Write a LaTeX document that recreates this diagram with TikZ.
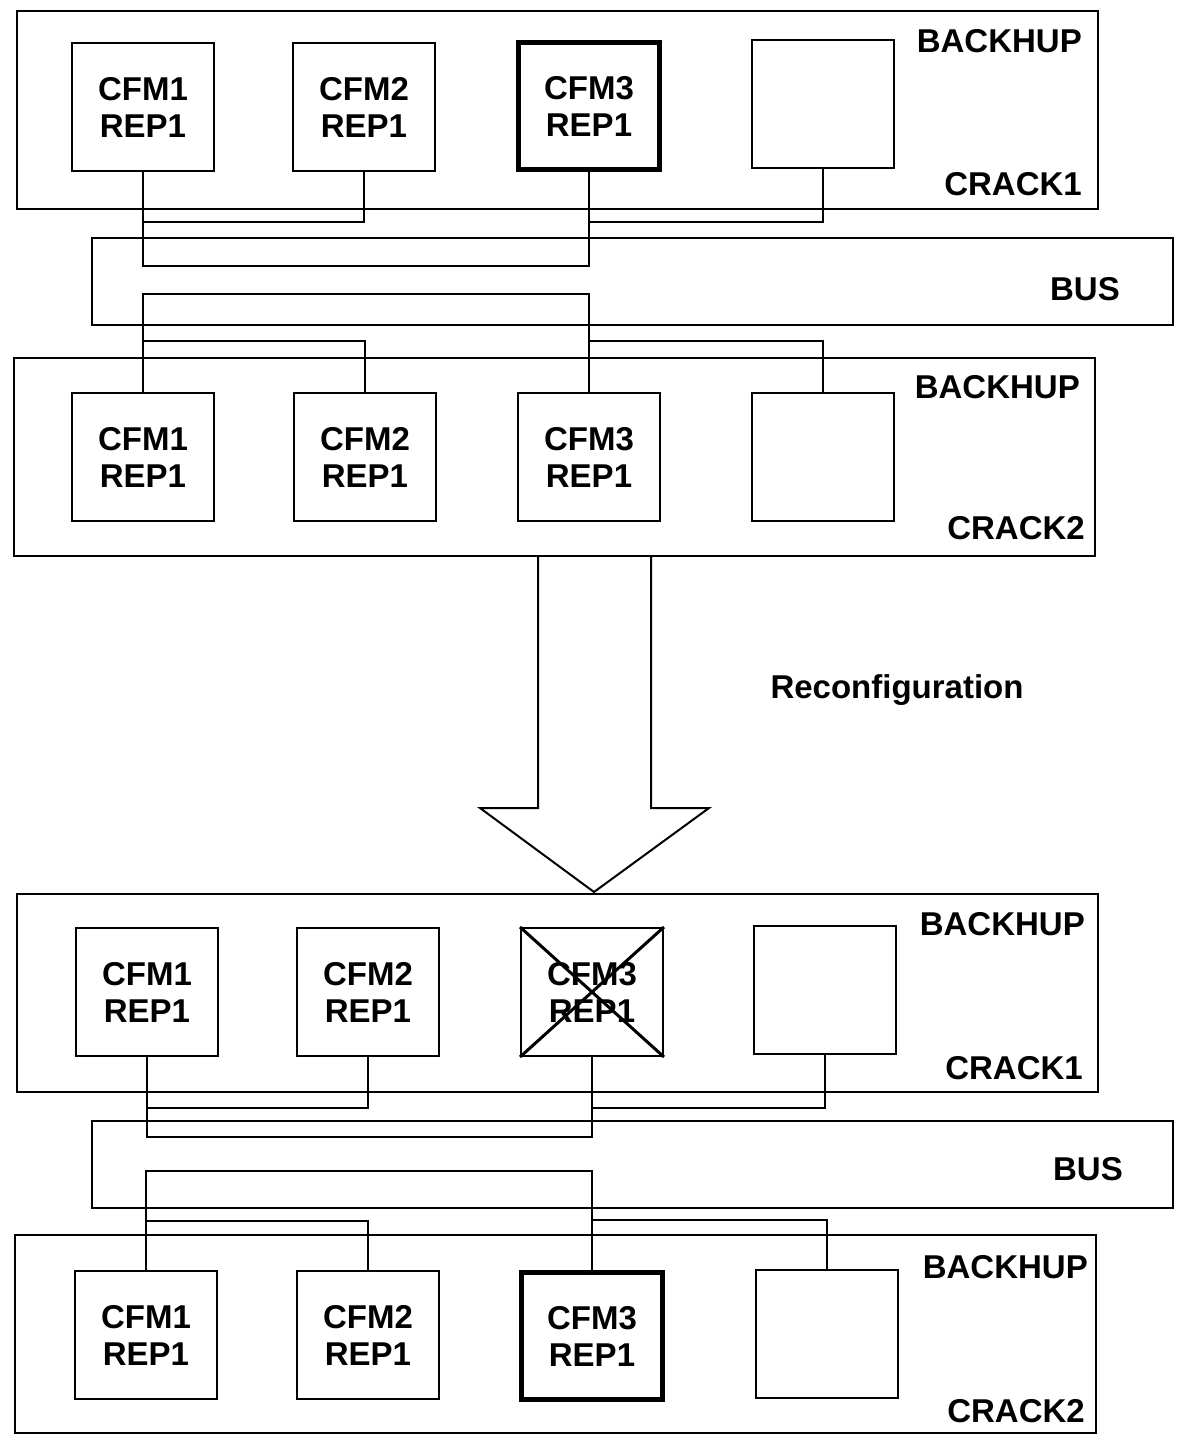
\documentclass[tikz,border=0pt]{standalone}
\usepackage{fontspec}
\setmainfont{Liberation Sans}
\begin{document}
\begin{tikzpicture}[x=1pt,y=-1pt,
  every node/.style={inner sep=0pt},
  lbl/.style={font=\bfseries\fontsize{33}{37}\selectfont},
  rack/.style={draw,line width=2pt,minimum width=1081pt,minimum height=198pt},
  busbox/.style={draw,line width=2pt,minimum width=1081pt,minimum height=87pt},
  cfm/.style={draw,line width=2pt,minimum width=142pt,minimum height=128pt,align=center,lbl},
  active/.style={cfm,line width=5pt,minimum width=141pt,minimum height=127pt},
  wire/.style={line width=2pt},
  tag/.style={lbl,anchor=base east}]
\useasboundingbox (0,0) rectangle (1178,1438);

% ---------- before reconfiguration ----------
\node[rack] (r1) at (557.5,110) {};
\node[tag] at (1082,52) {BACKHUP};
\node[tag] at (1082,195) {CRACK1};
\node[cfm] (a1) at (143,107) {CFM1\\REP1};
\node[cfm] (a2) at (364,107) {CFM2\\REP1};
\node[active] (a3) at (589,106) {CFM3\\REP1};
\node[cfm] (a4) at (823,104) {};

\node[busbox] (bus1) at (632.5,281.5) {};
\node[tag] at (1120,300) {BUS};

\node[rack] (r2) at (554.5,456.5) {};
\node[tag] at (1080,398) {BACKHUP};
\node[tag] at (1085,539) {CRACK2};
\node[cfm] (b1) at (143,457) {CFM1\\REP1};
\node[cfm] (b2) at (365,457) {CFM2\\REP1};
\node[cfm] (b3) at (589,457) {CFM3\\REP1};
\node[cfm] (b4) at (823,457) {};

% links of rack 1 to the bus
\draw[wire] (a1.south) -- (a1.south |- 0,266) -- (a3.south |- 0,266) -- (a3.south);
\draw[wire] (a2.south) |- (a1.south |- 0,222);
\draw[wire] (a4.south) |- (a3.south |- 0,222);
% links of the bus to rack 2
\draw[wire] (b1.north) -- (b1.north |- 0,294) -- (b3.north |- 0,294) -- (b3.north);
\draw[wire] (b2.north) |- (b1.north |- 0,341);
\draw[wire] (b4.north) |- (b3.north |- 0,341);

% ---------- reconfiguration arrow ----------
\coordinate (sl) at (538,555);
\coordinate (sr) at (651,555);
\draw[wire,line join=miter] (sl) -- (538,808) -- (480,808) -- (594,892)
  -- (709,808) -- (651,808) -- (sr);
\node[lbl,anchor=base] (rc) at (897,698) {Reconfiguration};

% ---------- after reconfiguration ----------
\node[rack] (r3) at (557.5,993) {};
\node[tag] at (1085,935) {BACKHUP};
\node[tag] at (1083,1079) {CRACK1};
\node[cfm] (c1) at (147,992) {CFM1\\REP1};
\node[cfm] (c2) at (368,992) {CFM2\\REP1};
\node[cfm] (c3) at (592,992) {CFM3\\REP1};
\node[cfm] (c4) at (825,990) {};
\draw[wire,line width=3pt] (c3.north west) -- (c3.south east);
\draw[wire,line width=3pt] (c3.south west) -- (c3.north east);

\node[busbox] (bus2) at (632,1164.5) {};
\node[tag] at (1123,1180) {BUS};

\node[rack] (r4) at (555,1334) {};
\node[tag] at (1088,1278) {BACKHUP};
\node[tag] at (1085,1422) {CRACK2};
\node[cfm] (d1) at (146,1335) {CFM1\\REP1};
\node[cfm] (d2) at (368,1335) {CFM2\\REP1};
\node[active] (d3) at (592,1336) {CFM3\\REP1};
\node[cfm] (d4) at (827,1333.5) {};

% links of rack 1 to the bus
\draw[wire] (c1.south) -- (c1.south |- 0,1137) -- (c3.south |- 0,1137) -- (c3.south);
\draw[wire] (c2.south) |- (c1.south |- 0,1108);
\draw[wire] (c4.south) |- (c3.south |- 0,1108);
% links of the bus to rack 2
\draw[wire] (d1.north) -- (d1.north |- 0,1171) -- (d3.north |- 0,1171) -- (d3.north);
\draw[wire] (d2.north) |- (d1.north |- 0,1221);
\draw[wire] (d4.north) |- (d3.north |- 0,1220);
\end{tikzpicture}
\end{document}
